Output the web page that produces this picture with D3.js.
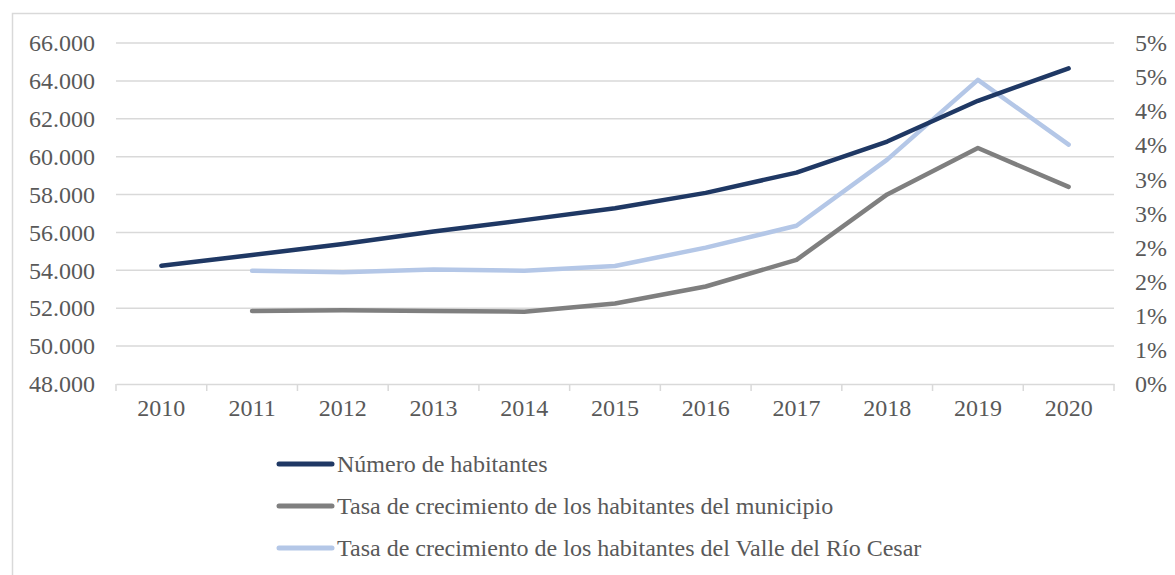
<!DOCTYPE html>
<html lang="es">
<head>
  <meta charset="UTF-8">
  <title>Habitantes</title>
  <style>
    body { margin: 0; background: #ffffff; }
    svg { display: block; }
    text { font-family: "Liberation Serif", "Times New Roman", serif; fill: #595959; }
  </style>
  <script type="text/javascript" src="https://d3js.org/d3.v7.min.js"></script>
</head>
<body>
</body>
<script type="text/javascript">

  var years = ["2010", "2011", "2012", "2013", "2014", "2015", "2016", "2017", "2018", "2019", "2020"];
  var habitantes = [54243, 54808, 55390, 56050, 56650, 57280, 58090, 59160, 60800, 62950, 64660];
  var tasaMunicipio = [null, 1.07, 1.08, 1.07, 1.06, 1.18, 1.43, 1.82, 2.78, 3.46, 2.89];
  var tasaValle = [null, 1.66, 1.64, 1.68, 1.66, 1.73, 2.00, 2.32, 3.29, 4.46, 3.51];
  var leftTicks = [48000, 50000, 52000, 54000, 56000, 58000, 60000, 62000, 64000, 66000];
  var rightTicks = [0, 0.5, 1, 1.5, 2, 2.5, 3, 3.5, 4, 4.5, 5];
  var seriesNames = [
    "Número de habitantes",
    "Tasa de crecimiento de los habitantes del municipio",
    "Tasa de crecimiento de los habitantes del Valle del Río Cesar"
  ];
  var colors = ["#1f3864", "#7f7f7f", "#b4c7e7"];

  var W = 1175, H = 575;
  var svg = d3.select("body").append("svg")
    .attr("width", W)
    .attr("height", H);

  // chart frame (only top and left visible in the original)
  svg.append("rect")
    .attr("x", 12.5).attr("y", 13.5)
    .attr("width", W + 20).attr("height", H + 20)
    .attr("fill", "none")
    .attr("stroke", "#d9d9d9")
    .attr("stroke-width", 1.5);

  var plotLeft = 116, plotRight = 1114, plotTop = 43, plotBottom = 384;

  var x = d3.scaleBand().domain(years).range([plotLeft, plotRight]);
  var yL = d3.scaleLinear().domain([48000, 66000]).range([plotBottom, plotTop]);
  var yR = d3.scaleLinear().domain([0, 5]).range([plotBottom, plotTop]);

  // gridlines
  svg.append("g")
    .selectAll("line")
    .data(leftTicks.slice(1))
    .enter().append("line")
    .attr("x1", plotLeft).attr("x2", plotRight)
    .attr("y1", function(d) { return yL(d); })
    .attr("y2", function(d) { return yL(d); })
    .attr("stroke", "#d9d9d9")
    .attr("stroke-width", 1.5);

  var fmtL = function(d) { return d3.format(",")(d).replace(/,/g, "."); };

  var axisL = svg.append("g")
    .attr("transform", "translate(" + plotLeft + ",0)")
    .call(d3.axisLeft(yL).tickValues(leftTicks).tickFormat(fmtL).tickSize(0).tickPadding(21));
  axisL.select(".domain").remove();

  var axisR = svg.append("g")
    .attr("transform", "translate(" + plotRight + ",0)")
    .call(d3.axisRight(yR).tickValues(rightTicks)
      .tickFormat(function(d) { return Math.round(d + 0.001) + "%"; })
      .tickSize(0).tickPadding(21));
  axisR.select(".domain").remove();

  // x axis with tick marks between categories
  var axisX = svg.append("g")
    .attr("transform", "translate(0," + plotBottom + ")")
    .call(d3.axisBottom(x).tickSize(0).tickPadding(15));
  axisX.select(".domain")
    .attr("stroke", "#d9d9d9")
    .attr("stroke-width", 1.5);
  axisX.selectAll(".sep")
    .data(d3.range(years.length + 1))
    .enter().append("line")
    .attr("class", "sep")
    .attr("x1", function(i) { return plotLeft + i * x.step(); })
    .attr("x2", function(i) { return plotLeft + i * x.step(); })
    .attr("y1", 0).attr("y2", 7)
    .attr("stroke", "#d9d9d9")
    .attr("stroke-width", 1.5);

  svg.selectAll(".tick text")
    .attr("font-size", 24)
    .attr("fill", "#595959")
    .style("font-family", "'Liberation Serif', serif");

  var cx = function(i) { return x(years[i]) + x.bandwidth() / 2; };

  var lineL = d3.line()
    .defined(function(d) { return d != null; })
    .x(function(d, i) { return cx(i); })
    .y(function(d) { return yL(d); });
  var lineR = d3.line()
    .defined(function(d) { return d != null; })
    .x(function(d, i) { return cx(i); })
    .y(function(d) { return yR(d); });

  var plot = svg.append("g");
  plot.append("path").datum(tasaMunicipio)
    .attr("d", lineR).attr("fill", "none")
    .attr("stroke", colors[1]).attr("stroke-width", 4.5)
    .attr("stroke-linecap", "round").attr("stroke-linejoin", "round");
  plot.append("path").datum(tasaValle)
    .attr("d", lineR).attr("fill", "none")
    .attr("stroke", colors[2]).attr("stroke-width", 4.5)
    .attr("stroke-linecap", "round").attr("stroke-linejoin", "round");
  plot.append("path").datum(habitantes)
    .attr("d", lineL).attr("fill", "none")
    .attr("stroke", colors[0]).attr("stroke-width", 4.5)
    .attr("stroke-linecap", "round").attr("stroke-linejoin", "round");

  // legend
  var legend = svg.append("g");
  var rows = legend.selectAll("g")
    .data(seriesNames)
    .enter().append("g")
    .attr("transform", function(d, i) { return "translate(0," + (464 + i * 42) + ")"; });
  rows.append("line")
    .attr("x1", 279).attr("x2", 332)
    .attr("y1", 0).attr("y2", 0)
    .attr("stroke", function(d, i) { return colors[i]; })
    .attr("stroke-width", 5)
    .attr("stroke-linecap", "round");
  rows.append("text")
    .attr("x", 337)
    .attr("y", 0)
    .attr("dy", "0.35em")
    .attr("font-size", 24)
    .text(function(d) { return d; });

</script>
</html>
